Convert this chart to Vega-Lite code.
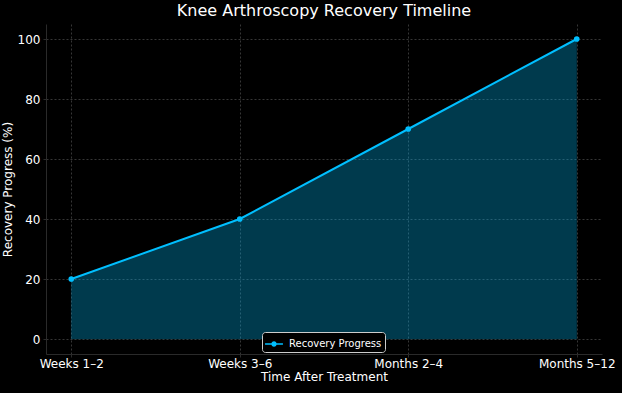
{
  "$schema": "https://vega.github.io/schema/vega-lite/v6.json",
  "autosize": "none",
  "width": 556,
  "height": 330,
  "padding": {"left": 46, "top": 24, "right": 20, "bottom": 39},
  "background": "#000000",
  "title": {"text": "Knee Arthroscopy Recovery Timeline", "font": "DejaVu Sans", "fontSize": 16, "fontWeight": "normal", "color": "#ffffff", "offset": 5},
  "config": {
    "view": {"stroke": null},
    "axis": {
      "labelFont": "DejaVu Sans", "titleFont": "DejaVu Sans",
      "labelColor": "#ffffff", "titleColor": "#ffffff",
      "labelFontSize": 12, "titleFontSize": 12, "titleFontWeight": "normal",
      "domainColor": "#2a2a2a", "domainWidth": 1,
      "gridColor": "#5a5a5a", "gridDash": [2, 2], "gridWidth": 0.6,
      "tickColor": "#2a2a2a", "tickSize": 3
    }
  },
  "data": {"values": [
    {"stage": "Weeks 1–2", "progress": 20, "series": "Recovery Progress"},
    {"stage": "Weeks 3–6", "progress": 40, "series": "Recovery Progress"},
    {"stage": "Months 2–4", "progress": 70, "series": "Recovery Progress"},
    {"stage": "Months 5–12", "progress": 100, "series": "Recovery Progress"}
  ]},
  "encoding": {
    "x": {"field": "stage", "type": "ordinal", "sort": null,
      "scale": {"type": "point", "padding": 0.15},
      "axis": {"title": "Time After Treatment", "labelAngle": 0, "grid": true, "labelPadding": 1, "titlePadding": 2}},
    "y": {"field": "progress", "type": "quantitative",
      "scale": {"domain": [-5, 105], "nice": false, "zero": false},
      "axis": {"title": "Recovery Progress (%)", "values": [0, 20, 40, 60, 80, 100], "grid": true, "labelPadding": 3, "titlePadding": 3}}
  },
  "layer": [
    {"mark": {"type": "area", "color": "#00bfff", "opacity": 0.3, "stroke": "#00bfff", "strokeOpacity": 0.35, "strokeWidth": 1},
     "encoding": {"y2": {"datum": 0}}},
    {"mark": {"type": "line", "color": "#00bfff", "strokeWidth": 2,
      "point": {"filled": true, "size": 32, "color": "#00bfff"}},
     "encoding": {
       "color": {"field": "series", "type": "nominal",
         "scale": {"range": ["#00bfff"]},
         "legend": {"title": null, "orient": "none", "legendX": 216, "legendY": 308,
           "direction": "vertical",
           "fillColor": "#000000", "strokeColor": "#cccccc", "cornerRadius": 3, "padding": 3,
           "labelFont": "DejaVu Sans", "labelFontSize": 10, "labelColor": "#ffffff", "labelOffset": 6,
           "symbolType": "M-1,-0.08H1V0.08H-1Z M0.3,0A0.3,0.3 0 1,1 -0.3,0A0.3,0.3 0 1,1 0.3,0Z",
           "symbolSize": 320, "symbolFillColor": "#00bfff", "symbolStrokeWidth": 0, "symbolOpacity": 1}}
     }}
  ]
}
